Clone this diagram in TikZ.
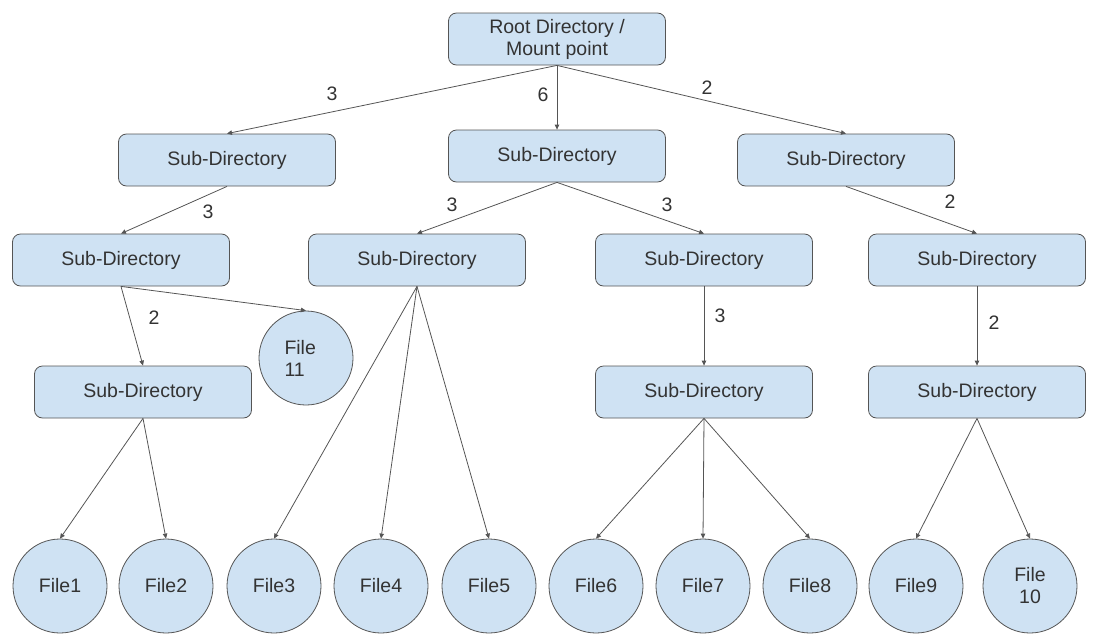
\documentclass[tikz,border=0pt]{standalone}
\usepackage{fontspec}
\setmainfont{Liberation Sans}
\usetikzlibrary{arrows.meta}
\definecolor{boxfill}{HTML}{CFE2F3}
\definecolor{boxline}{HTML}{555555}
\definecolor{inkgray}{HTML}{333333}
\begin{document}
\begin{tikzpicture}[x=1pt,y=-1pt,
  every node/.style={font=\fontsize{19.5}{22}\selectfont, text=inkgray},
  dirbox/.style={draw=boxline, fill=boxfill, rounded corners=8pt,
    minimum width=217pt, minimum height=52pt, inner sep=0pt, line width=0.8pt},
  filenode/.style={draw=boxline, fill=boxfill, circle, minimum size=94pt,
    inner sep=0pt, line width=0.8pt},
  link/.style={draw=boxline, line width=0.8pt, -{Triangle[length=5pt,width=4.5pt]}},
  weight/.style={inner sep=0pt}]
\useasboundingbox (0,0) rectangle (1095,635);

% directories
\node[dirbox, align=center] (root) at (557,39) {Root Directory /\\Mount point};
\node[dirbox] (s1a) at (227,160) {Sub-Directory};
\node[dirbox] (s1b) at (557,156) {Sub-Directory};
\node[dirbox] (s1c) at (846,160) {Sub-Directory};
\node[dirbox] (s2a) at (121,260) {Sub-Directory};
\node[dirbox] (s2b) at (417,260) {Sub-Directory};
\node[dirbox] (s2c) at (704,260) {Sub-Directory};
\node[dirbox] (s2d) at (977,260) {Sub-Directory};
\node[dirbox] (s3a) at (143,392) {Sub-Directory};
\node[dirbox] (s3c) at (704,392) {Sub-Directory};
\node[dirbox] (s3d) at (977,392) {Sub-Directory};

% files
\node[filenode, align=left, text width=43pt] (f11) at (306,358) {File\\11};
\node[filenode] (f1) at (60,586) {File1};
\node[filenode] (f2) at (166,586) {File2};
\node[filenode] (f3) at (274,586) {File3};
\node[filenode] (f4) at (381,586) {File4};
\node[filenode] (f5) at (489,586) {File5};
\node[filenode] (f6) at (596,586) {File6};
\node[filenode] (f7) at (703,586) {File7};
\node[filenode] (f8) at (810,586) {File8};
\node[filenode] (f9) at (916,586) {File9};
\node[filenode, align=center] (f10) at (1030,586) {File\\10};

% connectors
\draw[link] (root.south) -- (s1a.north);
\draw[link] (root.south) -- (s1b.north);
\draw[link] (root.south) -- (s1c.north);
\draw[link] (s1a.south) -- (s2a.north);
\draw[link] (s1b.south) -- (s2b.north);
\draw[link] (s1b.south) -- (s2c.north);
\draw[link] (s1c.south) -- (s2d.north);
\draw[link] (s2a.south) -- (s3a.north);
\draw[link] (s2a.south) -- (f11.north);
\draw[link] (s2b.south) -- (f3.north);
\draw[link] (s2b.south) -- (f4.north);
\draw[link] (s2b.south) -- (f5.north);
\draw[link] (s2c.south) -- (s3c.north);
\draw[link] (s2d.south) -- (s3d.north);
\draw[link] (s3a.south) -- (f1.north);
\draw[link] (s3a.south) -- (f2.north);
\draw[link] (s3c.south) -- (f6.north);
\draw[link] (s3c.south) -- (f7.north);
\draw[link] (s3c.south) -- (f8.north);
\draw[link] (s3d.south) -- (f9.north);
\draw[link] (s3d.south) -- (f10.north);

% edge weights
\node[weight] (w1) at (332,94) {3};
\node[weight] (w2) at (543,95) {6};
\node[weight] (w3) at (707,88) {2};
\node[weight] (w4) at (208,212) {3};
\node[weight] (w5) at (452,205) {3};
\node[weight] (w6) at (667,205) {3};
\node[weight] (w7) at (950,202) {2};
\node[weight] (w8) at (154,318) {2};
\node[weight] (w9) at (720,316) {3};
\node[weight] (w10) at (994,323) {2};
\end{tikzpicture}
\end{document}
